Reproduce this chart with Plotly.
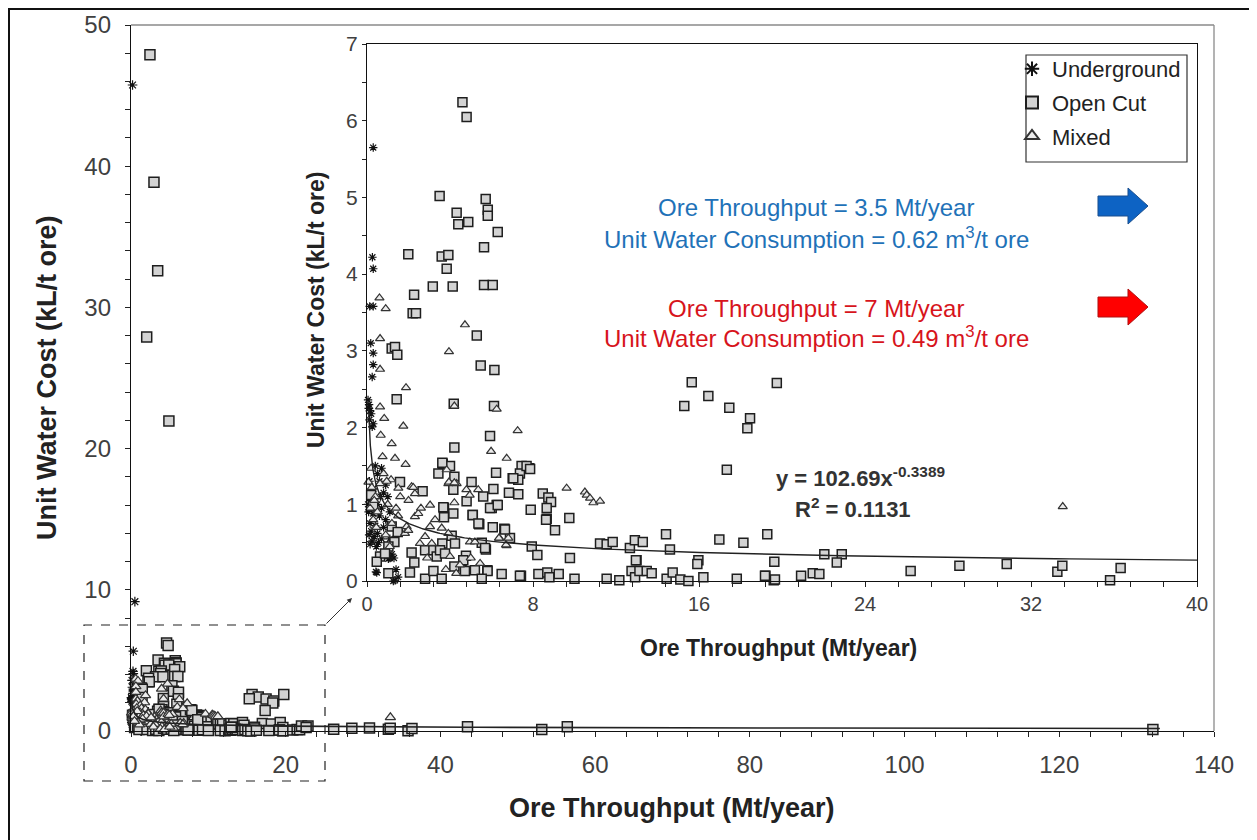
import numpy as np
import plotly.graph_objects as go

# ---------------- data ----------------
UG_X = [0.2, 0.5, 0.3, 0.26, 0.3, 0.13, 0.3, 0.18, 0.3, 0.3, 0.25, 0.05, 0.1, 0.15, 0.2, 0.12, 0.3, 0.25,
        0.08, 0.4, 0.7, 0.5, 0.6, 0.9, 0.3, 0.8, 1.0, 0.2, 0.5, 0.7, 1.1, 0.3, 0.6, 0.9, 0.15, 0.4, 0.8,
        0.2, 0.5, 0.1, 0.35, 0.7, 0.25, 0.55, 0.15, 0.45, 0.95, 1.03, 1.2, 1.3, 0.47, 1.35, 1.5, 0.08,
        0.12, 1.1, 0.05, 0.65, 1.4, 0.43, 0.95, 1.1, 1.27, 1.43]
UG_Y = [45.75, 9.16, 5.65, 4.22, 4.07, 3.58, 3.58, 3.10, 2.97, 2.82, 2.66, 2.36, 2.30, 2.22, 2.18, 2.10, 2.05, 2.01,
        2.25, 1.50, 1.47, 1.40, 1.30, 1.25, 1.20, 1.15, 1.10, 1.05, 1.00, 0.95, 0.90, 0.88, 0.85, 0.80, 0.75, 0.72, 0.70,
        0.65, 0.62, 0.60, 0.58, 0.55, 0.52, 0.50, 0.48, 0.45, 0.40, 0.29, 0.35, 0.30, 0.11, 0.01, 0.05, 0.90,
        1.30, 0.55, 1.00, 1.10, 0.15, 0.12, 0.36, 0.30, 0.00, -0.01]

OC_X = [2.45, 2.97, 3.45, 2.03, 4.9, 43.5, 53.1, 56.4, 132.1,
        4.6, 4.8, 3.5, 5.72, 5.82, 5.82, 4.32, 4.40, 4.88, 6.30, 5.64, 1.99, 3.60, 3.92, 3.84, 3.17, 4.13, 5.64, 6.06,
        2.27, 2.2, 2.36, 5.29, 1.19, 1.35, 1.46, 5.48, 6.14, 15.65, 16.45, 15.29, 17.46, 18.46, 18.33, 19.75, 17.34,
        1.43, 4.18, 6.12, 5.93, 4.21, 3.65, 4.0, 3.44, 7.45, 7.82, 7.37, 6.22, 4.21, 7.02, 7.29, 5.04, 1.59, 4.16,
        6.09, 6.84, 7.29, 8.47, 2.68, 8.74, 8.87, 5.6, 4.8, 8.66, 7.89, 6.25, 6.01, 3.71, 4.16, 5.1, 9.75, 8.66,
        3.71, 5.41, 9.06, 6.06, 6.62, 6.89, 7.94, 8.21, 5.53, 5.73, 4.77, 9.78, 11.23, 11.55, 11.84, 12.67, 12.91,
        13.29, 14.41, 14.6, 16.98, 18.14, 19.29, 12.99, 15.97, 15.92, 19.63,
        6.49, 7.42, 8.26, 8.69, 8.79, 9.24, 10.0, 11.55, 12.16, 12.75, 12.92, 13.13, 13.48, 13.72, 14.44, 14.73,
        15.1, 15.49, 16.21, 17.82, 19.2, 19.6, 5.8, 7.37,
        3.63, 3.68, 5.09, 5.93, 6.3, 5.37, 1.19, 1.32, 1.48, 1.03, 0.63, 0.47, 0.87, 2.15, 2.28, 2.8, 3.2, 3.36,
        3.63, 3.52, 4.08, 4.24, 3.76, 4.56, 4.64, 1.03, 2.07, 2.8, 3.2, 3.6, 4.21, 4.72, 5.2, 5.81, 5.53, 0.2, 0.3,
        7.05, 7.69, 7.86, 8.63, 6.65, 5.69, 12.96,
        19.18, 19.66, 20.92, 21.48, 21.8, 22.04, 22.88, 22.64, 26.2, 28.55, 30.83, 33.27, 33.51, 35.81, 36.32]
OC_Y = [47.9, 38.86, 32.6, 27.9, 21.95, 0.3, 0.1, 0.3, 0.1,
        6.24, 6.05, 5.02, 4.98, 4.84, 4.76, 4.80, 4.65, 4.68, 4.55, 4.35, 4.26, 4.23, 4.25, 4.07, 3.84, 3.84, 3.86, 3.86,
        3.73, 3.49, 3.49, 3.20, 3.03, 3.05, 2.95, 2.81, 2.75, 2.59, 2.41, 2.28, 2.26, 2.12, 1.99, 2.58, 1.45,
        2.37, 2.31, 2.28, 1.89, 1.74, 1.53, 1.50, 1.40, 1.50, 1.47, 1.40, 1.41, 1.36, 1.34, 1.32, 1.29, 1.29, 1.19,
        1.20, 1.15, 1.13, 1.14, 1.17, 1.09, 1.03, 1.10, 1.04, 0.95, 0.93, 0.99, 0.95, 0.95, 0.88, 0.86, 0.82, 0.81,
        0.83, 0.74, 0.66, 0.70, 0.68, 0.56, 0.45, 0.34, 0.50, 0.41, 0.33, 0.30, 0.49, 0.48, 0.51, 0.43, 0.53,
        0.51, 0.61, 0.41, 0.54, 0.50, 0.61, 0.27, 0.27, 0.22, 0.25,
        0.09, 0.07, 0.09, 0.11, 0.05, 0.09, 0.03, 0.03, 0.01, 0.13, 0.05, 0.13, 0.13, 0.10, 0.03, 0.11,
        0.02, 0.00, 0.05, 0.03, 0.07, 0.01, 0.14, 0.07,
        1.54, 0.96, 0.86, 0.95, 0.99, 0.75, 0.71, 0.51, 0.64, 0.45, 0.32, 0.25, 0.36, 0.37, 0.24, 0.40, 0.40, 0.32,
        0.49, 0.40, 0.59, 0.49, 0.36, 0.14, 0.27, 0.10, 0.11, 0.03, 0.13, 0.03, 0.19, 0.13, 0.14, 0.13, 0.03, 1.12, 0.98,
        1.34, 1.50, 1.46, 0.80, 0.67, 0.43, 0.27,
        0.07, 0.02, 0.07, 0.10, 0.09, 0.35, 0.35, 0.24, 0.13, 0.20, 0.22, 0.12, 0.20, 0.01, 0.17]

MX_X = [0.6, 0.9, 0.63, 0.63, 1.88, 0.63, 0.83, 1.75, 0.66, 1.19, 0.75, 1.35, 1.86, 0.2, 0.07, 0.23, 1.16, 0.63,
        0.95, 2.15, 1.51, 2.31, 3.04, 2.31, 2.47, 3.28, 3.04, 3.6, 3.92, 1.83, 1.91, 1.99, 2.8, 2.55, 3.12, 4.0,
        5.45, 4.48, 2.23, 4.72, 3.95, 4.21, 6.25, 7.26, 5.98, 6.73, 3.84, 3.92, 4.32, 3.95, 4.21, 5.36, 9.62,
        10.5, 10.59, 10.75, 10.91, 11.23, 4.21, 4.79, 4.95, 6.38, 6.73, 4.96, 5.2, 6.36, 6.81, 6.7, 33.53,
        0.4, 0.5, 1.0, 1.4, 0.3, 1.2, 0.8, 1.6, 2.0, 2.6, 1.5, 0.9, 1.1, 2.9, 3.8, 4.3, 5.0, 0.15, 0.35, 0.45]
MX_Y = [3.69, 3.55, 3.16, 2.76, 2.52, 2.27, 2.12, 2.02, 1.90, 1.79, 1.62, 1.60, 1.52, 1.47, 1.29, 1.22, 1.32, 1.27,
        1.30, 1.23, 1.21, 1.14, 0.99, 0.84, 0.88, 0.80, 0.71, 0.69, 0.62, 0.62, 0.71, 0.66, 0.58, 0.49, 0.49, 0.32,
        0.23, 0.21, 1.22, 3.34, 2.99, 2.28, 2.24, 1.96, 1.69, 1.60, 1.45, 1.27, 1.27, 1.29, 1.28, 1.19, 1.21,
        1.16, 1.12, 1.08, 1.02, 1.04, 1.02, 1.19, 1.12, 0.56, 0.46, 0.51, 0.51, 0.56, 0.56, 0.47, 0.97,
        1.10, 0.90, 1.00, 0.95, 0.80, 0.75, 1.40, 1.10, 1.05, 0.95, 0.85, 0.60, 0.45, 0.30, 0.15, 0.10, 0.30, 0.95, 1.05, 0.70]

# power-law fit printed on the chart: y = 102.69 x^-0.3389 (x in t/year)
FIT_A = 102.69
FIT_B = -0.3389
T_PER_MT = 1e6

MAIN_X_TICKS = [0, 20, 40, 60, 80, 100, 120, 140]
MAIN_Y_TICKS = [0, 10, 20, 30, 40, 50]
INSET_X_TICKS = [0, 8, 16, 24, 32, 40]
INSET_Y_TICKS = [0, 1, 2, 3, 4, 5, 6, 7]

# ---------------- geometry helpers (targets given in screenshot pixels) ----------------
OFF = 8                      # page body margin
W_FIG, H_FIG = 1249, 832
PL, PR, PT, PB = 131, 1214, 25, 731   # plot area edges on the screenshot
ML, MT = PL - OFF, PT - OFF
MR = W_FIG - (PR - OFF)
MB = H_FIG - (PB - OFF)
PW = PR - PL
PH = PB - PT


def px(xp):
    return (xp - PL) / PW


def py(yp):
    return (PB - yp) / PH


FONT = "Liberation Sans, Arial, sans-serif"

sq_style = dict(symbol="square", color="#d3d3d3", line=dict(color="#1e1e1e", width=1.5))
tri_style = dict(symbol="triangle-up", color="#ececec", line=dict(color="#333333", width=1.2))
ug_style = dict(symbol="asterisk-open", color="#111111", line=dict(color="#111111", width=1.2))

series = [
    ("Underground", UG_X, UG_Y, ug_style, 8, 7),
    ("Open Cut", OC_X, OC_Y, sq_style, 10, 9),
    ("Mixed", MX_X, MX_Y, tri_style, 9, 8),
]

fig = go.Figure()

# main chart traces
for name, xs, ys, st, s_main, s_in in series:
    fig.add_trace(go.Scatter(x=xs, y=ys, mode="markers", name=name, showlegend=False,
                             marker=dict(size=s_main, **st), cliponaxis=False,
                             xaxis="x", yaxis="y"))

fx_main = np.geomspace(0.08, 133, 300)
fig.add_trace(go.Scatter(x=fx_main, y=FIT_A * (fx_main * T_PER_MT) ** FIT_B, mode="lines",
                         line=dict(color="#222222", width=1.6), showlegend=False,
                         xaxis="x", yaxis="y"))

# inset traces
for name, xs, ys, st, s_main, s_in in series:
    xi = [x for x, y in zip(xs, ys) if x <= 40 and y <= 7]
    yi = [y for x, y in zip(xs, ys) if x <= 40 and y <= 7]
    fig.add_trace(go.Scatter(x=xi, y=yi, mode="markers", name=name, showlegend=True,
                             legendgroup=name,
                             marker=dict(size=s_in, **st), cliponaxis=False,
                             xaxis="x2", yaxis="y2"))

fx_in = np.geomspace(0.08, 40, 300)
fig.add_trace(go.Scatter(x=fx_in, y=FIT_A * (fx_in * T_PER_MT) ** FIT_B, mode="lines",
                         line=dict(color="#222222", width=1.4), showlegend=False,
                         xaxis="x2", yaxis="y2"))

tickfont_main = dict(family=FONT, size=24, color="#404040")
tickfont_in = dict(family=FONT, size=20, color="#404040")

fig.update_layout(
    width=W_FIG, height=H_FIG,
    margin=dict(l=ML, r=MR, t=MT, b=MB, autoexpand=False),
    paper_bgcolor="white", plot_bgcolor="white",
    xaxis=dict(domain=[0, 1], anchor="y", range=[0, 140], tickvals=MAIN_X_TICKS, automargin=False,
               ticks="outside", ticklen=5, tickwidth=1, tickcolor="#222",
               minor=dict(dtick=4, ticks="outside", ticklen=5, tickcolor="#222"),
               showline=True, linecolor="#111", linewidth=1.3, showgrid=False, zeroline=False,
               tickfont=tickfont_main, ticklabelstandoff=7),
    yaxis=dict(domain=[0, 1], anchor="x", range=[0, 50], tickvals=MAIN_Y_TICKS, automargin=False,
               ticks="outside", ticklen=5, tickwidth=1, tickcolor="#222",
               minor=dict(dtick=2, ticks="outside", ticklen=5, tickcolor="#222"),
               showline=True, linecolor="#111", linewidth=1.3, showgrid=False, zeroline=False,
               tickfont=tickfont_main, ticklabelstandoff=9),
    xaxis2=dict(domain=[px(367), px(1197)], anchor="y2", range=[0, 40], tickvals=INSET_X_TICKS,
                automargin=False,
                ticks="outside", ticklen=5, tickwidth=1, tickcolor="#222",
                minor=dict(dtick=1.6, ticks="outside", ticklen=5, tickcolor="#222"),
                showline=True, linecolor="#111", linewidth=1.3, mirror=True, showgrid=False,
                zeroline=False, tickfont=tickfont_in, ticklabelstandoff=0),
    yaxis2=dict(domain=[py(581), py(44)], anchor="x2", range=[0, 7], tickvals=INSET_Y_TICKS,
                automargin=False,
                ticks="outside", ticklen=4, tickwidth=1, tickcolor="#222",
                minor=dict(dtick=0.5, ticks="outside", ticklen=4, tickcolor="#222"),
                showline=True, linecolor="#111", linewidth=1.3, mirror=True, showgrid=False,
                zeroline=False, tickfont=dict(family=FONT, size=21, color="#404040"),
                ticklabelstandoff=0),
    legend=dict(x=px(1012), y=py(48), xanchor="left", yanchor="top",
                bgcolor="rgba(0,0,0,0)", borderwidth=0, traceorder="grouped",
                font=dict(family=FONT, size=22, color="#222"), tracegroupgap=2,
                itemsizing="constant"),
    showlegend=True,
)

shapes = [
    # outer frame (left & top)
    dict(type="line", xref="paper", yref="paper", x0=px(9), x1=px(9), y0=py(8), y1=py(860),
         line=dict(color="#111", width=2)),
    dict(type="line", xref="paper", yref="paper", x0=px(8), x1=px(1260), y0=py(9), y1=py(9),
         line=dict(color="#111", width=2)),
    # main plot top / right border (grey)
    dict(type="line", xref="paper", yref="paper", x0=0, x1=1, y0=1, y1=1,
         line=dict(color="#8a8a8a", width=1.3)),
    dict(type="line", xref="paper", yref="paper", x0=1, x1=1, y0=0, y1=1,
         line=dict(color="#8a8a8a", width=1.3)),
    # dashed zoom box
    dict(type="rect", xref="paper", yref="paper", x0=px(84), x1=px(325), y0=py(781), y1=py(625),
         line=dict(color="#222", width=1.2, dash="dash")),
    # legend box
    dict(type="rect", xref="paper", yref="paper", x0=px(1026), x1=px(1187), y0=py(162), y1=py(55),
         line=dict(color="#333", width=1.2), layer="above"),
]


def block_arrow(yc, color, edge):
    x0, xm, x1 = 1098, 1128, 1148
    pts = [(x0, yc - 10), (xm, yc - 10), (xm, yc - 18), (x1, yc), (xm, yc + 18), (xm, yc + 10), (x0, yc + 10)]
    path = "M " + " L ".join(f"{px(a):.5f},{py(b):.5f}" for a, b in pts) + " Z"
    return dict(type="path", xref="paper", yref="paper", path=path, fillcolor=color,
                line=dict(color=edge, width=1))


shapes.append(block_arrow(206, "#0d63c4", "#1a4f8f"))
shapes.append(block_arrow(307, "#ff0000", "#b01010"))

BLUE = "#1f72b8"
RED = "#d7141c"

annotations = [
    dict(text="Ore Throughput = 3.5 Mt/year", x=px(816), y=py(208), font=dict(family=FONT, size=24, color=BLUE)),
    dict(text="Unit Water Consumption = 0.62 m<sup>3</sup>/t ore", x=px(816), y=py(238),
         font=dict(family=FONT, size=24, color=BLUE)),
    dict(text="Ore Throughput = 7 Mt/year", x=px(816), y=py(308), font=dict(family=FONT, size=24, color=RED)),
    dict(text="Unit Water Consumption = 0.49 m<sup>3</sup>/t ore", x=px(816), y=py(337),
         font=dict(family=FONT, size=24, color=RED)),
    dict(text="<b>y = 102.69x<sup>-0.3389</sup></b>", x=px(774), y=py(477), xanchor="left",
         font=dict(family=FONT, size=22, color="#333")),
    dict(text="<b>R<sup>2</sup> = 0.1131</b>", x=px(793), y=py(508), xanchor="left",
         font=dict(family=FONT, size=22, color="#333")),
    # axis titles
    dict(text="<b>Unit Water Cost (kL/t ore)</b>", x=px(47), y=py(378), textangle=-90,
         font=dict(family=FONT, size=27, color="#222")),
    dict(text="<b>Ore Throughput (Mt/year)</b>", x=px(672), y=py(808),
         font=dict(family=FONT, size=27, color="#222")),
    dict(text="<b>Unit Water Cost (kL/t ore)</b>", x=px(316), y=py(310), textangle=-90,
         font=dict(family=FONT, size=23, color="#222")),
    dict(text="<b>Ore Throughput (Mt/year)</b>", x=px(778), y=py(648),
         font=dict(family=FONT, size=23, color="#222")),
    # arrow from zoom box to inset
    dict(text="", x=px(352), y=py(598), ax=-27, ay=27, showarrow=True, arrowhead=2,
         arrowsize=1, arrowwidth=1, arrowcolor="#333"),
]
for a in annotations:
    a.setdefault("xref", "paper")
    a.setdefault("yref", "paper")
    a.setdefault("showarrow", False)
    a.setdefault("xanchor", "center")
    a.setdefault("yanchor", "middle")

fig.update_layout(shapes=shapes, annotations=annotations)

fig.write_html("out.html")
